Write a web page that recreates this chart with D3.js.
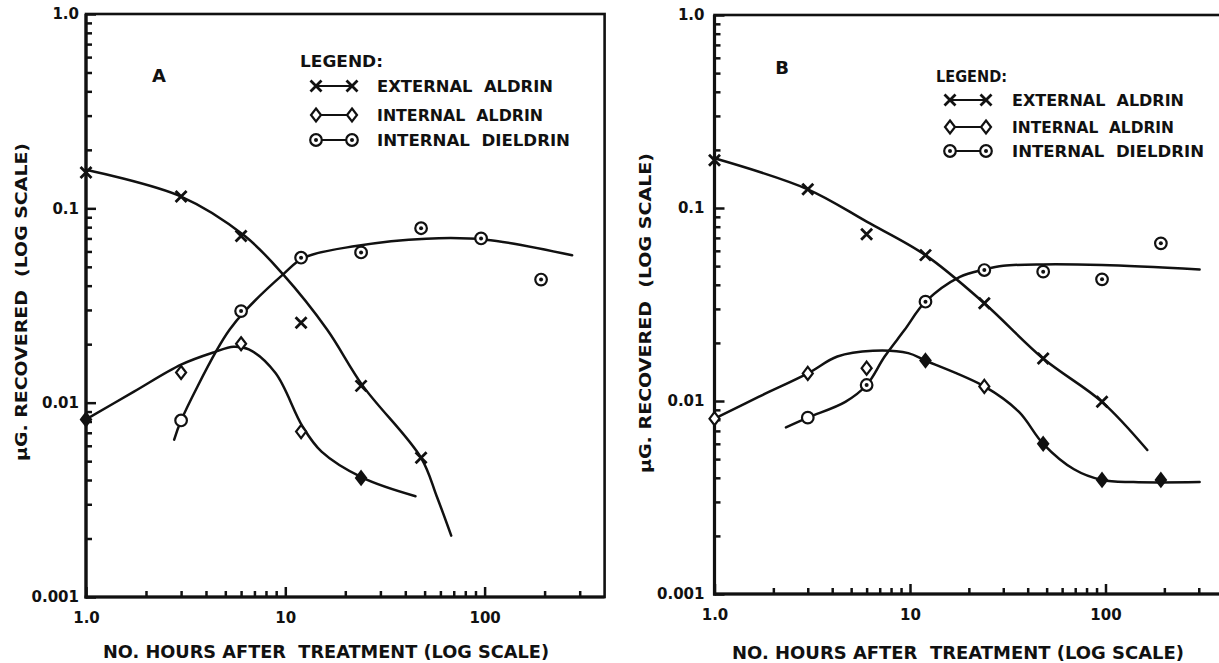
<!DOCTYPE html>
<html><head><meta charset="utf-8">
<script src="https://cdn.jsdelivr.net/npm/d3@7"></script>
<style>
body{margin:0;background:#fff}
svg{display:block;background:#fff}
text{font-family:"DejaVu Sans",sans-serif;font-weight:bold;fill:#111;white-space:pre}
</style>
</head><body>
<svg id="c" width="1219" height="663"></svg>
<script>
// ---------------- data ----------------
const xTickValues = [1, 10, 100];
const xTickLabels = ["1.0", "10", "100"];
const yTickValues = [0.001, 0.01, 0.1, 1];
const yTickLabels = ["0.001", "0.01", "0.1", "1.0"];
const xMinorTicks = [2,3,4,5,6,7,8,9,20,30,40,50,60,70,80,90,200,300];
const yMinorTicks = [0.002,0.003,0.004,0.005,0.006,0.007,0.008,0.009,0.02,0.03,0.04,0.05,0.06,0.07,0.08,0.09,0.2,0.3,0.4,0.5,0.6,0.7,0.8,0.9];
const legendTitle = "LEGEND:";
const seriesNames = ["EXTERNAL  ALDRIN", "INTERNAL  ALDRIN", "INTERNAL  DIELDRIN"];
const xTitle = "NO. HOURS AFTER  TREATMENT (LOG SCALE)";
const yTitle = "\u03bcG. RECOVERED  (LOG SCALE)";
const panelNames = ["A", "B"];

// Panel A observations
const hoursExtA = [1, 3, 6, 12, 24, 48];
const extAldrinA = [0.153, 0.115, 0.072, 0.0258, 0.0122, 0.0052];
const hoursIntA = [1, 3, 6, 12, 24];
const intAldrinA = [0.0082, 0.0143, 0.0201, 0.0071, 0.0041];
const hoursDieA = [3, 6, 12, 24, 48, 96, 192];
const intDieldrinA = [0.0081, 0.0296, 0.0557, 0.0593, 0.079, 0.070, 0.043];
// Panel A fitted curves (hours, value)
const curveExtA = [[1,0.158],[3,0.115],[6.27,0.072],[9.75,0.0457],[16.2,0.0238],[24.5,0.0122],[48,0.0052],[57.5,0.0033],[68,0.00207]];
const curveIntA = [[1,0.0082],[1.74,0.0114],[3,0.0157],[4.4,0.0182],[5.5,0.0194],[6.56,0.0188],[8.93,0.0142],[12.2,0.00755],[15.2,0.0056],[24.5,0.0041],[45,0.0033]];
const curveDieA = [[2.77,0.00645],[3,0.0081],[4.5,0.0184],[5.26,0.0238],[6.27,0.0296],[9.75,0.0457],[12.4,0.0557],[22.6,0.064],[51,0.0698],[101,0.069],[275,0.0573]];

// Panel B observations
const hoursExtB = [1, 3, 6, 12, 24, 48, 96];
const extAldrinB = [0.177, 0.125, 0.0731, 0.057, 0.0321, 0.0166, 0.0099];
const hoursIntB = [1, 3, 6, 12, 24, 48, 96, 192];
const intAldrinB = [0.0081, 0.0139, 0.0148, 0.0162, 0.0119, 0.006, 0.0039, 0.0039];
const hoursDieB = [3, 6, 12, 24, 48, 96, 192];
const intDieldrinB = [0.0082, 0.0121, 0.0327, 0.0477, 0.0468, 0.0427, 0.0656];
// Panel B fitted curves
const curveExtB = [[1,0.181],[3,0.125],[6,0.085],[12,0.057],[24,0.0321],[48,0.0166],[96,0.0099],[163.6,0.00557]];
const curveIntB = [[1,0.0081],[1.68,0.0105],[3,0.0139],[4.25,0.017],[6.46,0.0182],[9.8,0.0177],[12,0.0162],[24,0.0119],[36,0.0088],[48,0.006],[69,0.00443],[96,0.0039],[139,0.0038],[303,0.0038]];
const curveDieB = [[2.32,0.0073],[3,0.0082],[4.67,0.0099],[6,0.0121],[7.42,0.017],[9.37,0.0233],[12,0.0327],[18,0.044],[24,0.048],[30,0.0502],[48,0.051],[96,0.0506],[303,0.048]];

// ---------------- drawing ----------------
const svg = d3.select("#c");
const INK = "#111";

const panels = [
  {
    name: panelNames[0], xDomain:[1,400], xRange:[86, 604.6], yRange:[597, 14],
    frameRight: 604.6,
    ext:{h:hoursExtA, v:extAldrinA, curve:curveExtA},
    int:{h:hoursIntA, v:intAldrinA, curve:curveIntA, filled:[1,24]},
    die:{h:hoursDieA, v:intDieldrinA, curve:curveDieA, open:[3]},
    label:{x:159, y:76, size:18},
    legTitle:{x:300, y:62, w:83, size:15},
    leg:{x1:316, x2:352, tx:377, ys:[86,115,140], w:[176,166,193], size:16},
    xLabelPad:15, yLabelPad:7,
    xTitle:{cx:326, y:652, w:446}, yTitle:{cx:21, cy:302, w:318}
  },
  {
    name: panelNames[1], xDomain:[1,400], xRange:[714.5, 1223.2], yRange:[594, 15],
    frameRight: 1223.2,
    ext:{h:hoursExtB, v:extAldrinB, curve:curveExtB},
    int:{h:hoursIntB, v:intAldrinB, curve:curveIntB, filled:[12,48,96,192]},
    die:{h:hoursDieB, v:intDieldrinB, curve:curveDieB, open:[3]},
    label:{x:782, y:68, size:18},
    legTitle:{x:936, y:77, w:71, size:15},
    leg:{x1:950, x2:986, tx:1012, ys:[100,127,151], w:[172,162,192], size:16},
    xLabelPad:15, yLabelPad:10,
    xTitle:{cx:958, y:653, w:452}, yTitle:{cx:645, cy:313, w:320}
  }
];

function drawCross(g, cx, cy){
  const s = 5.5;
  g.append("path").attr("d", `M${cx-s},${cy-s}L${cx+s},${cy+s}M${cx-s},${cy+s}L${cx+s},${cy-s}`)
    .attr("stroke", INK).attr("stroke-width", 2.8).attr("fill","none");
}
function drawDiamond(g, cx, cy, filled){
  const w = 5, h = 6.5;
  g.append("path").attr("d", `M${cx},${cy-h}L${cx+w},${cy}L${cx},${cy+h}L${cx-w},${cy}Z`)
    .attr("stroke", INK).attr("stroke-width", 2.2).attr("fill", filled ? INK : "#fff");
}
function drawCircle(g, cx, cy, open){
  g.append("circle").attr("cx",cx).attr("cy",cy).attr("r",5.8)
    .attr("stroke",INK).attr("stroke-width",2.2).attr("fill","#fff");
  if(!open) g.append("circle").attr("cx",cx).attr("cy",cy).attr("r",2).attr("fill",INK);
}

panels.forEach(p => {
  const g = svg.append("g");
  const x = d3.scaleLog().domain(p.xDomain).range(p.xRange);
  const y = d3.scaleLog().domain([0.001, 1]).range(p.yRange);
  const x0 = p.xRange[0], y0 = p.yRange[0], yTop = p.yRange[1];

  // frame
  g.append("rect").attr("x", x0).attr("y", yTop).attr("width", p.frameRight - x0).attr("height", y0 - yTop)
    .attr("fill","none").attr("stroke",INK).attr("stroke-width",2.6);
  g.append("line").attr("x1",x0).attr("x2",x0).attr("y1",yTop).attr("y2",y0+1.5).attr("stroke",INK).attr("stroke-width",3.2);
  g.append("line").attr("x1",x0-1.5).attr("x2",p.frameRight).attr("y1",y0).attr("y2",y0).attr("stroke",INK).attr("stroke-width",3.2);

  // axes
  const styleAxis = sel => {
    sel.select(".domain").remove();
    sel.selectAll(".tick line").attr("stroke",INK).attr("stroke-width",2.5);
  };
  g.append("g").attr("transform",`translate(0,${y0})`)
    .call(d3.axisBottom(x).tickValues(xMinorTicks).tickSize(-6).tickFormat(() => ""))
    .call(styleAxis);
  g.append("g").attr("transform",`translate(0,${y0})`)
    .call(d3.axisBottom(x).tickValues(xTickValues).tickSize(-10).tickPadding(p.xLabelPad)
      .tickFormat((d,i) => xTickLabels[i]))
    .call(styleAxis)
    .call(s => s.selectAll("text").attr("font-size",15).attr("font-family",null).attr("fill",INK));
  g.append("g").attr("transform",`translate(${x0},0)`)
    .call(d3.axisLeft(y).tickValues(yMinorTicks).tickSize(-6).tickFormat(() => ""))
    .call(styleAxis);
  g.append("g").attr("transform",`translate(${x0},0)`)
    .call(d3.axisLeft(y).tickValues(yTickValues).tickSize(-10).tickPadding(p.yLabelPad)
      .tickFormat((d,i) => yTickLabels[i]))
    .call(styleAxis)
    .call(s => s.selectAll("text").attr("font-size",15).attr("font-family",null).attr("fill",INK));

  // titles
  g.append("text").attr("x", p.xTitle.cx).attr("y", p.xTitle.y).attr("dy","0.36em")
    .attr("text-anchor","middle").attr("font-size",18)
    .attr("textLength", p.xTitle.w).attr("lengthAdjust","spacingAndGlyphs").text(xTitle);
  g.append("text").attr("transform",`translate(${p.yTitle.cx},${p.yTitle.cy}) rotate(-90)`).attr("dy","0.36em")
    .attr("text-anchor","middle").attr("font-size",16)
    .attr("textLength", p.yTitle.w).attr("lengthAdjust","spacingAndGlyphs").text(yTitle);

  // panel label
  g.append("text").attr("x",p.label.x).attr("y",p.label.y).attr("dy","0.36em").attr("text-anchor","middle")
    .attr("font-size",p.label.size).text(p.name);

  // curves
  const line = d3.line().x(d => x(d[0])).y(d => y(d[1])).curve(d3.curveCatmullRom.alpha(0.5));
  [p.ext.curve, p.int.curve, p.die.curve].forEach(c => {
    g.append("path").attr("d", line(c)).attr("fill","none").attr("stroke",INK).attr("stroke-width",2.5)
      .attr("stroke-linecap","round");
  });

  // points
  p.die.h.forEach((h,i) => drawCircle(g, x(h), y(p.die.v[i]), p.die.open.includes(h)));
  p.int.h.forEach((h,i) => drawDiamond(g, x(h), y(p.int.v[i]), p.int.filled.includes(h)));
  p.ext.h.forEach((h,i) => drawCross(g, x(h), y(p.ext.v[i])));

  // legend
  g.append("text").attr("x",p.legTitle.x).attr("y",p.legTitle.y).attr("dy","0.36em")
    .attr("font-size",p.legTitle.size).attr("textLength",p.legTitle.w).attr("lengthAdjust","spacingAndGlyphs")
    .text(legendTitle);
  const L = p.leg;
  seriesNames.forEach((nm,i) => {
    const yy = L.ys[i];
    g.append("line").attr("x1",L.x1).attr("x2",L.x2).attr("y1",yy).attr("y2",yy).attr("stroke",INK).attr("stroke-width",2.2);
    if(i===0){ drawCross(g,L.x1,yy); drawCross(g,L.x2,yy); }
    if(i===1){ drawDiamond(g,L.x1,yy,false); drawDiamond(g,L.x2,yy,false); }
    if(i===2){ drawCircle(g,L.x1,yy,false); drawCircle(g,L.x2,yy,false); }
    g.append("text").attr("x",L.tx).attr("y",yy).attr("dy","0.36em").attr("font-size",L.size)
      .attr("textLength",L.w[i]).attr("lengthAdjust","spacingAndGlyphs").text(nm);
  });
});
</script>
</body></html>
